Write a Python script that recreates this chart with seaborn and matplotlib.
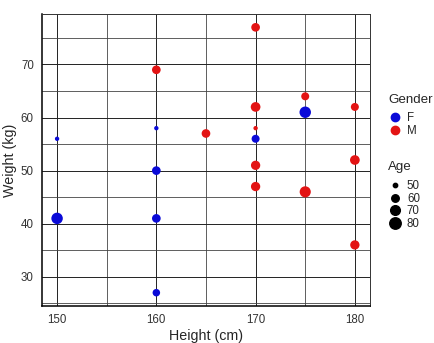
import matplotlib
matplotlib.use("Agg")
import matplotlib.pyplot as plt
from matplotlib.lines import Line2D
from matplotlib.ticker import MultipleLocator
import numpy as np
import pandas as pd
import seaborn as sns

heights = [150, 150, 160, 160, 160, 160, 170, 175,
           160, 165, 170, 170, 170, 170, 170, 175, 175, 180, 180, 180]
weights = [56, 41, 58, 50, 41, 27, 56, 61,
           69, 57, 77, 62, 58, 51, 47, 64, 46, 62, 52, 36]
genders = ["F"] * 8 + ["M"] * 12
ages = [50, 80, 50, 65, 65, 60, 62, 80,
        65, 65, 65, 70, 50, 68, 68, 62, 78, 62, 70, 68]
age_levels = [50, 60, 70, 80]

palette = {"F": "#0a0ad8", "M": "#e31414"}
SIZE_RANGE = (6, 72)
AGE_NORM = (48, 82)

df = pd.DataFrame({"Height": heights, "Weight": weights, "Gender": genders, "Age": ages})

sns.set_style("white")
plt.rcParams["font.family"] = ["Liberation Sans", "DejaVu Sans"]

fig = plt.figure(figsize=(4.35, 3.43), dpi=100)
ax = fig.add_axes([0.097, 0.108, 0.753, 0.851])

sns.scatterplot(data=df, x="Height", y="Weight", hue="Gender", size="Age",
                palette=palette, sizes=SIZE_RANGE, size_norm=AGE_NORM,
                linewidth=0, legend=False, ax=ax, zorder=3)

ax.set_xlim(148.5, 181.5)
ax.set_ylim(24.5, 79.5)
ax.xaxis.set_major_locator(MultipleLocator(10))
ax.xaxis.set_minor_locator(MultipleLocator(5))
ax.yaxis.set_major_locator(MultipleLocator(10))
ax.yaxis.set_minor_locator(MultipleLocator(5))
ax.grid(which="major", color="#222222", linewidth=0.7)
ax.grid(which="minor", color="#444444", linewidth=0.6)
ax.set_axisbelow(True)

for side in ["top", "right"]:
    ax.spines[side].set_color("#333333")
    ax.spines[side].set_linewidth(0.7)
for side in ["left", "bottom"]:
    ax.spines[side].set_color("black")
    ax.spines[side].set_linewidth(1.1)

ax.tick_params(which="major", direction="out", length=3, width=0.7,
               color="#333333", labelsize=8.3, labelcolor="#333333", pad=3)
ax.tick_params(which="minor", length=0)
ax.set_xlabel("Height (cm)", fontsize=10.3, labelpad=2)
ax.set_ylabel("Weight (kg)", fontsize=10.3, labelpad=3)


def marker_size(age):
    area = np.interp(age, AGE_NORM, SIZE_RANGE)
    return np.sqrt(area)


gender_handles = [Line2D([], [], marker="o", linestyle="", color=palette[g],
                         markersize=6, label=g) for g in ["F", "M"]]
age_handles = [Line2D([], [], marker="o", linestyle="", color="black",
                      markersize=marker_size(a), label=str(a)) for a in age_levels]

leg_kw = dict(loc="upper left", frameon=False, fontsize=8.3,
              handletextpad=0.5, labelspacing=0.05, borderpad=0, borderaxespad=0,
              handlelength=1.1)
fig.text(0.892, 1 - 100 / 343, "Gender", fontsize=9.6, va="center", ha="left")
fig.legend(handles=gender_handles, bbox_to_anchor=(0.893, 1 - 112 / 343), **leg_kw)
fig.text(0.892, 1 - 167 / 343, "Age", fontsize=9.6, va="center", ha="left")
fig.legend(handles=age_handles, bbox_to_anchor=(0.893, 1 - 180 / 343), **leg_kw)

fig.savefig("out.png", dpi=100)
plt.close(fig)
